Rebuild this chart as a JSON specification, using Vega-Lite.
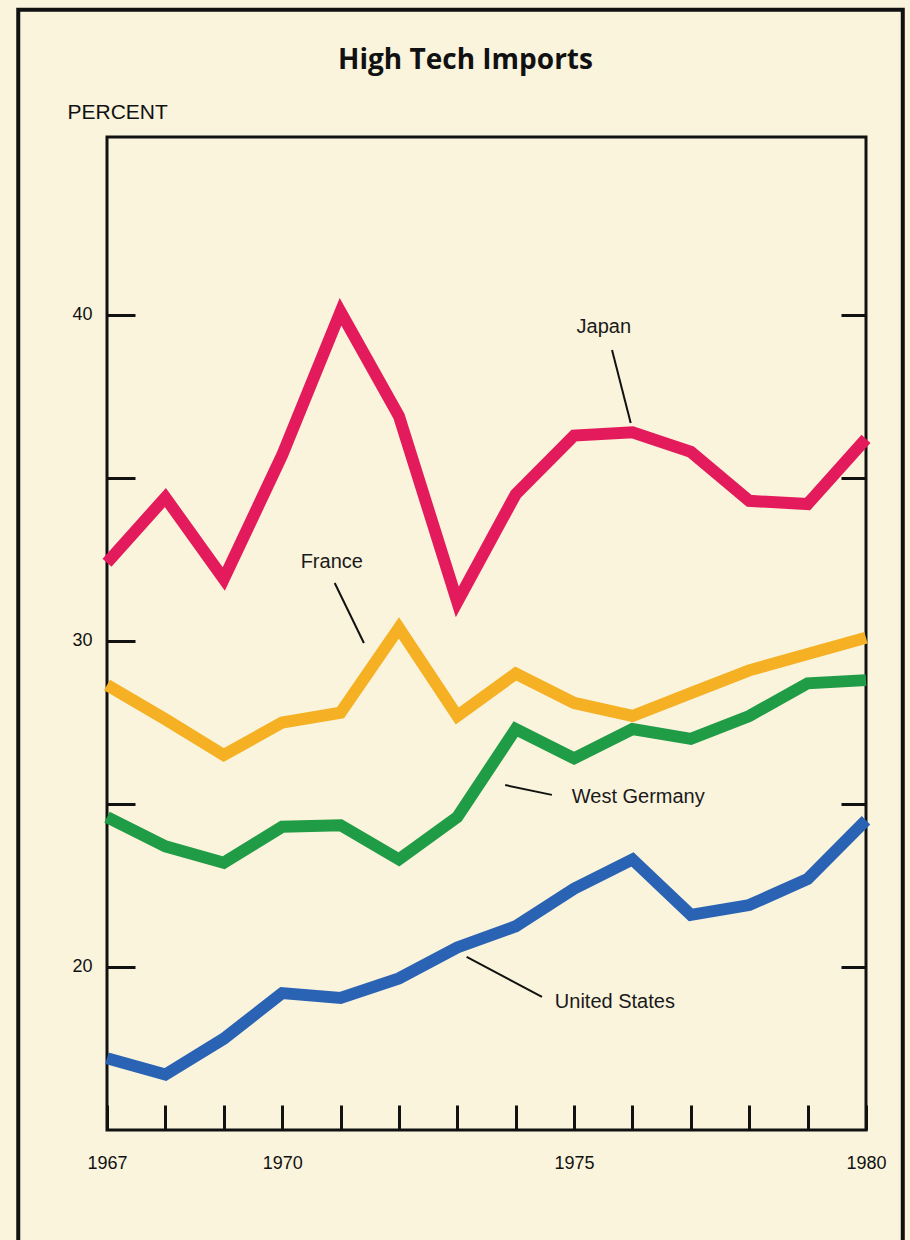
{
  "$schema": "https://vega.github.io/schema/vega-lite/v6.json",
  "autosize": "none",
  "width": 759,
  "height": 993,
  "padding": {"left": 107, "top": 137, "right": 44, "bottom": 110},
  "background": "#faf4dc",
  "title": {
    "text": "High Tech Imports",
    "font": "Open Sans",
    "fontWeight": "bold",
    "fontSize": 28,
    "color": "#111111",
    "anchor": "middle",
    "dx": -21,
    "offset": -67
  },
  "config": {
    "view": {"stroke": "#111111", "strokeWidth": 3},
    "axis": {
      "grid": false,
      "domain": false,
      "tickColor": "#111111",
      "tickWidth": 3,
      "labelFont": "Liberation Sans",
      "labelFontSize": 18,
      "labelColor": "#111111",
      "labelFlush": false,
      "titleFont": "Liberation Sans",
      "titleFontWeight": "normal",
      "titleColor": "#111111"
    },
    "text": {"font": "Liberation Sans", "fontSize": 20, "color": "#1a1a1a"}
  },
  "data": {
    "values": [
      {"year": 1967, "country": "Japan", "value": 32.4},
      {"year": 1968, "country": "Japan", "value": 34.4},
      {"year": 1969, "country": "Japan", "value": 31.9},
      {"year": 1970, "country": "Japan", "value": 35.7},
      {"year": 1971, "country": "Japan", "value": 40.1},
      {"year": 1972, "country": "Japan", "value": 36.9},
      {"year": 1973, "country": "Japan", "value": 31.2},
      {"year": 1974, "country": "Japan", "value": 34.5},
      {"year": 1975, "country": "Japan", "value": 36.3},
      {"year": 1976, "country": "Japan", "value": 36.4},
      {"year": 1977, "country": "Japan", "value": 35.8},
      {"year": 1978, "country": "Japan", "value": 34.3},
      {"year": 1979, "country": "Japan", "value": 34.2},
      {"year": 1980, "country": "Japan", "value": 36.2},
      {"year": 1967, "country": "France", "value": 28.65},
      {"year": 1968, "country": "France", "value": 27.6},
      {"year": 1969, "country": "France", "value": 26.5},
      {"year": 1970, "country": "France", "value": 27.5},
      {"year": 1971, "country": "France", "value": 27.8},
      {"year": 1972, "country": "France", "value": 30.4},
      {"year": 1973, "country": "France", "value": 27.7},
      {"year": 1974, "country": "France", "value": 29.0},
      {"year": 1975, "country": "France", "value": 28.1},
      {"year": 1976, "country": "France", "value": 27.7},
      {"year": 1977, "country": "France", "value": 28.4},
      {"year": 1978, "country": "France", "value": 29.1},
      {"year": 1979, "country": "France", "value": 29.6},
      {"year": 1980, "country": "France", "value": 30.1},
      {"year": 1967, "country": "West Germany", "value": 24.6},
      {"year": 1968, "country": "West Germany", "value": 23.7},
      {"year": 1969, "country": "West Germany", "value": 23.2},
      {"year": 1970, "country": "West Germany", "value": 24.3},
      {"year": 1971, "country": "West Germany", "value": 24.35},
      {"year": 1972, "country": "West Germany", "value": 23.3},
      {"year": 1973, "country": "West Germany", "value": 24.6},
      {"year": 1974, "country": "West Germany", "value": 27.3},
      {"year": 1975, "country": "West Germany", "value": 26.4},
      {"year": 1976, "country": "West Germany", "value": 27.3},
      {"year": 1977, "country": "West Germany", "value": 27.0},
      {"year": 1978, "country": "West Germany", "value": 27.7},
      {"year": 1979, "country": "West Germany", "value": 28.7},
      {"year": 1980, "country": "West Germany", "value": 28.8},
      {"year": 1967, "country": "United States", "value": 17.2},
      {"year": 1968, "country": "United States", "value": 16.7},
      {"year": 1969, "country": "United States", "value": 17.8},
      {"year": 1970, "country": "United States", "value": 19.2},
      {"year": 1971, "country": "United States", "value": 19.05},
      {"year": 1972, "country": "United States", "value": 19.65},
      {"year": 1973, "country": "United States", "value": 20.6},
      {"year": 1974, "country": "United States", "value": 21.25},
      {"year": 1975, "country": "United States", "value": 22.4},
      {"year": 1976, "country": "United States", "value": 23.3},
      {"year": 1977, "country": "United States", "value": 21.6},
      {"year": 1978, "country": "United States", "value": 21.9},
      {"year": 1979, "country": "United States", "value": 22.7},
      {"year": 1980, "country": "United States", "value": 24.5}
    ]
  },
  "layer": [
    {
      "layer": [
        {
          "mark": {"type": "line", "strokeWidth": 12, "strokeJoin": "miter", "strokeCap": "butt"},
          "encoding": {
            "x": {
              "field": "year", "type": "quantitative",
              "scale": {"domain": [1967, 1980], "nice": false, "zero": false},
              "axis": {
                "title": null,
                "values": [1967, 1968, 1969, 1970, 1971, 1972, 1973, 1974, 1975, 1976, 1977, 1978, 1979, 1980],
                "format": "d",
                "labelExpr": "(datum.value == 1967 || datum.value == 1970 || datum.value == 1975 || datum.value == 1980) ? datum.label : ''",
                "tickSize": -25,
                "labelPadding": 49
              }
            },
            "y": {
              "field": "value", "type": "quantitative",
              "scale": {"domain": [15, 45.46], "nice": false, "zero": false},
              "axis": {
                "title": "PERCENT",
                "titleAngle": 0,
                "titleAlign": "left",
                "titleBaseline": "alphabetic",
                "titleX": -40,
                "titleY": -19,
                "titleFontSize": 21,
                "values": [20, 25, 30, 35, 40],
                "labelExpr": "datum.value % 10 == 0 ? datum.label : ''",
                "tickSize": -28,
                "labelPadding": 43
              }
            },
            "color": {
              "field": "country", "type": "nominal",
              "scale": {
                "domain": ["Japan", "France", "West Germany", "United States"],
                "range": ["#e31b5c", "#f5b023", "#1f9c45", "#2a63b4"]
              },
              "legend": null
            }
          }
        },
        {
          "data": {"values": [{}]},
          "mark": {"type": "text", "align": "center", "baseline": "middle"},
          "encoding": {
            "x": {"datum": 1975.51, "type": "quantitative"},
            "y": {"datum": 39.63, "type": "quantitative"},
            "text": {"value": "Japan"}
          }
        },
        {
          "data": {"values": [{}]},
          "mark": {"type": "text", "align": "center", "baseline": "middle"},
          "encoding": {
            "x": {"datum": 1970.85, "type": "quantitative"},
            "y": {"datum": 32.42, "type": "quantitative"},
            "text": {"value": "France"}
          }
        },
        {
          "data": {"values": [{}]},
          "mark": {"type": "text", "align": "left", "baseline": "middle"},
          "encoding": {
            "x": {"datum": 1974.96, "type": "quantitative"},
            "y": {"datum": 25.21, "type": "quantitative"},
            "text": {"value": "West Germany"}
          }
        },
        {
          "data": {"values": [{}]},
          "mark": {"type": "text", "align": "left", "baseline": "middle"},
          "encoding": {
            "x": {"datum": 1974.67, "type": "quantitative"},
            "y": {"datum": 18.93, "type": "quantitative"},
            "text": {"value": "United States"}
          }
        },
        {
          "data": {"values": [{}]},
          "mark": {"type": "rule", "color": "#111111", "strokeWidth": 2},
          "encoding": {
            "x": {"datum": 1975.65, "type": "quantitative"},
            "y": {"datum": 38.93, "type": "quantitative"},
            "x2": {"datum": 1975.97},
            "y2": {"datum": 36.69}
          }
        },
        {
          "data": {"values": [{}]},
          "mark": {"type": "rule", "color": "#111111", "strokeWidth": 2},
          "encoding": {
            "x": {"datum": 1970.9, "type": "quantitative"},
            "y": {"datum": 31.78, "type": "quantitative"},
            "x2": {"datum": 1971.4},
            "y2": {"datum": 29.94}
          }
        },
        {
          "data": {"values": [{}]},
          "mark": {"type": "rule", "color": "#111111", "strokeWidth": 2},
          "encoding": {
            "x": {"datum": 1973.82, "type": "quantitative"},
            "y": {"datum": 25.58, "type": "quantitative"},
            "x2": {"datum": 1974.62},
            "y2": {"datum": 25.28}
          }
        },
        {
          "data": {"values": [{}]},
          "mark": {"type": "rule", "color": "#111111", "strokeWidth": 2},
          "encoding": {
            "x": {"datum": 1973.16, "type": "quantitative"},
            "y": {"datum": 20.31, "type": "quantitative"},
            "x2": {"datum": 1974.45},
            "y2": {"datum": 19.08}
          }
        }
      ]
    },
    {
      "data": {"values": [{}]},
      "mark": {"type": "rect", "filled": false, "stroke": "#111111", "strokeWidth": 4},
      "encoding": {
        "x": {"datum": 1965.48, "type": "quantitative"},
        "x2": {"datum": 1980.63},
        "y": {
          "datum": 49.36, "type": "quantitative",
          "axis": {
            "orient": "right",
            "title": null,
            "values": [20, 25, 30, 35, 40],
            "labels": false,
            "tickSize": -25
          }
        },
        "y2": {"datum": 11}
      }
    }
  ],
  "resolve": {"axis": {"y": "independent"}}
}
